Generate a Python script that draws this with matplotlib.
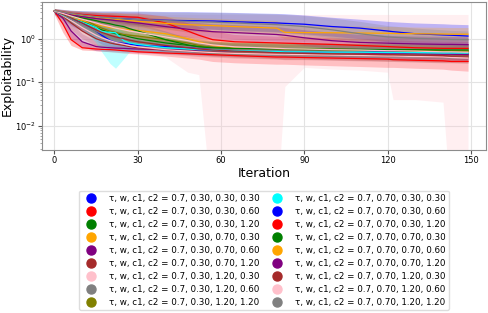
import matplotlib
matplotlib.use("Agg")
import matplotlib.pyplot as plt
from matplotlib.lines import Line2D
import numpy as np

plt.rcParams['font.family'] = ['DejaVu Sans']

# iteration knots at which values were read
iters = [0, 3, 6, 10, 15, 17, 20, 22, 25, 27, 30, 40, 48, 52, 57, 65, 80, 83, 90, 100, 110, 120, 122, 130, 140, 143, 149]

labels = [
    "τ, w, c1, c2 = 0.7, 0.30, 0.30, 0.30",
    "τ, w, c1, c2 = 0.7, 0.30, 0.30, 0.60",
    "τ, w, c1, c2 = 0.7, 0.30, 0.30, 1.20",
    "τ, w, c1, c2 = 0.7, 0.30, 0.70, 0.30",
    "τ, w, c1, c2 = 0.7, 0.30, 0.70, 0.60",
    "τ, w, c1, c2 = 0.7, 0.30, 0.70, 1.20",
    "τ, w, c1, c2 = 0.7, 0.30, 1.20, 0.30",
    "τ, w, c1, c2 = 0.7, 0.30, 1.20, 0.60",
    "τ, w, c1, c2 = 0.7, 0.30, 1.20, 1.20",
    "τ, w, c1, c2 = 0.7, 0.70, 0.30, 0.30",
    "τ, w, c1, c2 = 0.7, 0.70, 0.30, 0.60",
    "τ, w, c1, c2 = 0.7, 0.70, 0.30, 1.20",
    "τ, w, c1, c2 = 0.7, 0.70, 0.70, 0.30",
    "τ, w, c1, c2 = 0.7, 0.70, 0.70, 0.60",
    "τ, w, c1, c2 = 0.7, 0.70, 0.70, 1.20",
    "τ, w, c1, c2 = 0.7, 0.70, 1.20, 0.30",
    "τ, w, c1, c2 = 0.7, 0.70, 1.20, 0.60",
    "τ, w, c1, c2 = 0.7, 0.70, 1.20, 1.20",
]
colors = ["blue", "red", "green", "orange", "purple", "brown", "pink", "gray", "olive",
          "cyan", "blue", "red", "green", "orange", "purple", "brown", "pink", "gray"]

s01_mean = [4.3, 3.5, 2.8, 2.3, 1.5, 1.2, 0.92, 0.82, 0.78, 0.75, 0.7, 0.66, 0.64, 0.62, 0.6, 0.58, 0.56, 0.55, 0.54, 0.53, 0.52, 0.5, 0.5, 0.48, 0.47, 0.46, 0.45]
s01_lo = [3.8, 2.8, 2.0, 1.5, 0.9, 0.75, 0.65, 0.6, 0.58, 0.56, 0.55, 0.5, 0.48, 0.47, 0.46, 0.44, 0.42, 0.41, 0.4, 0.39, 0.38, 0.37, 0.37, 0.36, 0.35, 0.34, 0.33]
s01_hi = [4.8, 4.3, 3.8, 3.3, 2.6, 2.2, 1.8, 1.5, 1.3, 1.15, 1.05, 0.9, 0.85, 0.82, 0.8, 0.78, 0.75, 0.74, 0.73, 0.72, 0.7, 0.68, 0.68, 0.66, 0.65, 0.64, 0.63]

s02_mean = [4.3, 2.2, 0.95, 0.62, 0.58, 0.57, 0.56, 0.55, 0.53, 0.52, 0.5, 0.47, 0.45, 0.44, 0.43, 0.41, 0.38, 0.38, 0.37, 0.36, 0.35, 0.34, 0.33, 0.32, 0.31, 0.3, 0.3]
s02_lo = [3.6, 1.4, 0.7, 0.55, 0.53, 0.52, 0.5, 0.49, 0.47, 0.46, 0.45, 0.4, 0.36, 0.34, 0.3, 0.28, 0.26, 0.26, 0.25, 0.24, 0.23, 0.22, 0.22, 0.21, 0.2, 0.19, 0.18]
s02_hi = [4.8, 3.3, 1.6, 0.85, 0.75, 0.73, 0.7, 0.69, 0.67, 0.65, 0.63, 0.6, 0.58, 0.57, 0.56, 0.54, 0.52, 0.52, 0.51, 0.5, 0.49, 0.47, 0.47, 0.46, 0.45, 0.45, 0.45]

s03_mean = [4.3, 3.6, 3.0, 2.5, 1.8, 1.6, 1.4, 1.3, 1.2, 1.1, 1.0, 0.8, 0.7, 0.66, 0.63, 0.6, 0.58, 0.57, 0.56, 0.55, 0.54, 0.53, 0.53, 0.52, 0.51, 0.5, 0.5]
s03_lo = [3.8, 3.0, 2.3, 1.8, 1.2, 1.05, 0.95, 0.88, 0.82, 0.77, 0.72, 0.6, 0.53, 0.5, 0.48, 0.45, 0.43, 0.42, 0.41, 0.4, 0.39, 0.38, 0.38, 0.37, 0.36, 0.35, 0.35]
s03_hi = [4.8, 4.2, 3.7, 3.3, 2.6, 2.4, 2.1, 2.0, 1.85, 1.7, 1.55, 1.2, 1.0, 0.93, 0.88, 0.83, 0.8, 0.79, 0.78, 0.76, 0.75, 0.74, 0.74, 0.73, 0.72, 0.71, 0.71]

s04_mean = [4.3, 3.7, 3.1, 2.6, 2.1, 2.0, 1.8, 1.75, 1.65, 1.6, 1.55, 1.3, 1.0, 0.85, 0.7, 0.62, 0.6, 0.59, 0.58, 0.57, 0.56, 0.55, 0.55, 0.54, 0.53, 0.53, 0.52]
s04_lo = [3.8, 3.1, 2.5, 2.0, 1.5, 1.4, 1.25, 1.2, 1.1, 1.05, 1.0, 0.8, 0.62, 0.55, 0.48, 0.44, 0.42, 0.41, 0.4, 0.4, 0.39, 0.38, 0.38, 0.37, 0.36, 0.36, 0.35]
s04_hi = [4.8, 4.3, 3.8, 3.3, 2.8, 2.7, 2.5, 2.45, 2.35, 2.3, 2.25, 2.0, 1.6, 1.3, 1.05, 0.9, 0.85, 0.84, 0.83, 0.82, 0.8, 0.78, 0.78, 0.77, 0.76, 0.76, 0.75]

s05_mean = [4.2, 3.0, 1.5, 0.85, 0.66, 0.64, 0.62, 0.61, 0.6, 0.59, 0.58, 0.56, 0.55, 0.54, 0.53, 0.52, 0.5, 0.5, 0.49, 0.48, 0.47, 0.46, 0.46, 0.45, 0.44, 0.44, 0.43]
s05_lo = [3.6, 2.2, 1.0, 0.65, 0.53, 0.52, 0.51, 0.5, 0.49, 0.48, 0.47, 0.45, 0.43, 0.42, 0.41, 0.4, 0.38, 0.38, 0.37, 0.36, 0.35, 0.34, 0.34, 0.33, 0.32, 0.32, 0.31]
s05_hi = [4.8, 3.8, 2.3, 1.3, 0.9, 0.85, 0.8, 0.78, 0.76, 0.74, 0.72, 0.7, 0.68, 0.67, 0.66, 0.65, 0.63, 0.63, 0.62, 0.61, 0.6, 0.59, 0.59, 0.58, 0.57, 0.57, 0.56]

s06_mean = [4.3, 3.3, 2.3, 1.5, 1.0, 0.9, 0.8, 0.75, 0.7, 0.66, 0.62, 0.55, 0.52, 0.5, 0.49, 0.47, 0.45, 0.44, 0.43, 0.42, 0.41, 0.4, 0.4, 0.39, 0.38, 0.38, 0.37]
s06_lo = [3.7, 2.6, 1.6, 1.0, 0.7, 0.65, 0.6, 0.57, 0.55, 0.52, 0.5, 0.44, 0.41, 0.39, 0.38, 0.36, 0.34, 0.33, 0.33, 0.32, 0.31, 0.3, 0.3, 0.29, 0.28, 0.28, 0.27]
s06_hi = [4.8, 4.0, 3.1, 2.2, 1.5, 1.3, 1.1, 1.0, 0.92, 0.86, 0.8, 0.7, 0.66, 0.64, 0.63, 0.6, 0.58, 0.57, 0.56, 0.55, 0.54, 0.53, 0.53, 0.52, 0.51, 0.51, 0.5]

s07_mean = [4.3, 3.4, 2.6, 1.8, 1.2, 1.05, 0.9, 0.82, 0.75, 0.7, 0.65, 0.56, 0.52, 0.5, 0.48, 0.46, 0.44, 0.44, 0.43, 0.42, 0.41, 0.4, 0.4, 0.39, 0.38, 0.37, 0.36]
s07_lo = [3.5, 2.5, 1.5, 0.9, 0.6, 0.55, 0.5, 0.48, 0.46, 0.45, 0.44, 0.38, 0.17, 0.15, 0.0001, 0.0001, 0.0001, 0.08, 0.22, 0.2, 0.19, 0.17, 0.04, 0.04, 0.035, 0.0001, 0.0001]
s07_hi = [4.8, 4.6, 4.4, 4.2, 4.0, 3.9, 3.8, 3.8, 3.7, 3.7, 3.7, 3.6, 3.6, 3.6, 3.6, 3.6, 3.6, 3.6, 3.6, 3.6, 3.6, 3.6, 3.6, 3.6, 3.6, 3.6, 3.6]

s08_mean = [4.3, 3.5, 2.8, 2.1, 1.5, 1.3, 1.15, 1.05, 0.95, 0.9, 0.85, 0.72, 0.66, 0.63, 0.6, 0.57, 0.55, 0.54, 0.53, 0.52, 0.5, 0.49, 0.49, 0.48, 0.47, 0.47, 0.46]
s08_lo = [3.8, 2.9, 2.1, 1.5, 1.0, 0.9, 0.8, 0.75, 0.7, 0.66, 0.63, 0.54, 0.5, 0.48, 0.46, 0.43, 0.41, 0.4, 0.4, 0.39, 0.38, 0.37, 0.37, 0.36, 0.35, 0.35, 0.34]
s08_hi = [4.8, 4.2, 3.6, 2.9, 2.2, 1.9, 1.7, 1.55, 1.4, 1.3, 1.2, 1.0, 0.9, 0.86, 0.82, 0.78, 0.75, 0.74, 0.73, 0.72, 0.7, 0.68, 0.68, 0.67, 0.66, 0.66, 0.65]

s09_mean = [4.3, 3.6, 3.2, 2.9, 2.0, 1.75, 1.5, 1.4, 1.25, 1.2, 1.15, 0.95, 0.8, 0.7, 0.63, 0.6, 0.58, 0.57, 0.56, 0.55, 0.55, 0.54, 0.54, 0.53, 0.53, 0.52, 0.52]
s09_lo = [3.8, 3.0, 2.5, 2.1, 1.4, 1.2, 1.05, 0.97, 0.9, 0.86, 0.82, 0.68, 0.58, 0.52, 0.47, 0.45, 0.43, 0.42, 0.42, 0.41, 0.41, 0.4, 0.4, 0.39, 0.39, 0.38, 0.38]
s09_hi = [4.8, 4.3, 3.9, 3.7, 2.8, 2.5, 2.2, 2.05, 1.85, 1.75, 1.65, 1.35, 1.15, 1.0, 0.88, 0.83, 0.8, 0.79, 0.78, 0.77, 0.77, 0.76, 0.76, 0.75, 0.75, 0.74, 0.74]

s10_mean = [4.3, 3.5, 3.0, 2.4, 1.8, 1.45, 1.4, 1.37, 0.9, 0.8, 0.74, 0.62, 0.58, 0.56, 0.55, 0.53, 0.51, 0.5, 0.5, 0.49, 0.49, 0.48, 0.48, 0.48, 0.47, 0.47, 0.47]
s10_lo = [3.8, 2.9, 2.4, 1.8, 0.8, 0.5, 0.27, 0.21, 0.35, 0.5, 0.55, 0.48, 0.45, 0.44, 0.43, 0.41, 0.4, 0.39, 0.39, 0.38, 0.38, 0.37, 0.37, 0.37, 0.36, 0.36, 0.36]
s10_hi = [4.8, 4.2, 3.7, 3.1, 2.6, 2.2, 2.0, 1.95, 1.4, 1.2, 1.05, 0.85, 0.78, 0.75, 0.73, 0.7, 0.67, 0.66, 0.66, 0.65, 0.65, 0.64, 0.64, 0.64, 0.63, 0.63, 0.63]

s11_mean = [4.4, 4.0, 3.7, 3.4, 3.1, 3.05, 2.95, 2.9, 2.85, 2.8, 2.75, 2.65, 2.6, 2.58, 2.55, 2.45, 2.3, 2.25, 2.15, 1.9, 1.75, 1.5, 1.45, 1.3, 1.22, 1.2, 1.15]
s11_lo = [3.9, 3.4, 3.0, 2.6, 2.3, 2.2, 2.1, 2.05, 2.0, 1.95, 1.9, 1.8, 1.75, 1.7, 1.65, 1.55, 1.45, 1.4, 1.3, 1.15, 1.0, 0.85, 0.82, 0.75, 0.7, 0.68, 0.66]
s11_hi = [4.9, 4.7, 4.5, 4.4, 4.3, 4.3, 4.3, 4.3, 4.3, 4.3, 4.3, 4.2, 4.2, 4.15, 4.1, 4.0, 3.8, 3.75, 3.5, 3.1, 2.8, 2.5, 2.45, 2.3, 2.2, 2.15, 2.1]

s12_mean = [4.4, 4.1, 3.8, 3.6, 3.4, 3.35, 3.3, 3.25, 3.2, 3.15, 3.1, 2.3, 1.5, 1.2, 0.95, 0.85, 0.8, 0.79, 0.77, 0.74, 0.7, 0.66, 0.65, 0.62, 0.6, 0.6, 0.6]
s12_lo = [3.9, 3.4, 3.0, 2.8, 2.5, 2.4, 2.35, 2.3, 2.2, 2.1, 2.0, 1.4, 0.95, 0.8, 0.65, 0.6, 0.56, 0.55, 0.54, 0.52, 0.5, 0.47, 0.47, 0.45, 0.43, 0.43, 0.42]
s12_hi = [4.9, 4.6, 4.4, 4.2, 4.1, 4.0, 4.0, 4.0, 3.9, 3.9, 3.9, 3.3, 2.3, 1.9, 1.5, 1.25, 1.15, 1.13, 1.1, 1.06, 1.0, 0.95, 0.94, 0.9, 0.87, 0.87, 0.86]

s13_mean = [4.3, 3.8, 3.4, 3.0, 2.6, 2.4, 2.2, 2.05, 1.9, 1.7, 1.5, 0.95, 0.72, 0.65, 0.62, 0.6, 0.59, 0.59, 0.58, 0.58, 0.57, 0.56, 0.56, 0.56, 0.55, 0.55, 0.55]
s13_lo = [3.8, 3.2, 2.7, 2.3, 1.9, 1.75, 1.6, 1.5, 1.35, 1.2, 1.05, 0.65, 0.52, 0.48, 0.46, 0.45, 0.44, 0.44, 0.43, 0.43, 0.42, 0.41, 0.41, 0.41, 0.4, 0.4, 0.4]
s13_hi = [4.8, 4.4, 4.1, 3.8, 3.4, 3.2, 3.0, 2.9, 2.7, 2.5, 2.3, 1.5, 1.05, 0.9, 0.85, 0.82, 0.8, 0.8, 0.79, 0.79, 0.78, 0.77, 0.77, 0.77, 0.76, 0.76, 0.76]

s14_mean = [4.4, 4.0, 3.7, 3.4, 3.1, 3.0, 2.9, 2.8, 2.7, 2.6, 2.5, 2.25, 2.1, 2.05, 2.0, 1.9, 1.75, 1.4, 1.38, 1.37, 1.35, 1.33, 1.32, 1.3, 1.28, 1.27, 1.27]
s14_lo = [3.9, 3.4, 3.0, 2.6, 2.3, 2.2, 2.1, 2.05, 1.95, 1.9, 1.8, 1.6, 1.5, 1.45, 1.4, 1.3, 1.2, 1.0, 0.98, 0.95, 0.93, 0.9, 0.9, 0.88, 0.86, 0.85, 0.85]
s14_hi = [4.9, 4.6, 4.4, 4.2, 4.0, 3.95, 3.9, 3.85, 3.8, 3.7, 3.6, 3.3, 3.1, 3.0, 2.95, 2.8, 2.6, 2.1, 2.05, 2.0, 1.95, 1.9, 1.9, 1.85, 1.82, 1.8, 1.8]

s15_mean = [4.3, 3.9, 3.5, 3.2, 2.9, 2.8, 2.7, 2.6, 2.5, 2.4, 2.3, 1.9, 1.65, 1.55, 1.45, 1.38, 1.25, 1.2, 1.05, 0.9, 0.82, 0.79, 0.78, 0.76, 0.74, 0.74, 0.73]
s15_lo = [3.8, 3.3, 2.8, 2.4, 2.1, 2.0, 1.95, 1.9, 1.8, 1.7, 1.6, 1.3, 1.1, 1.02, 0.95, 0.9, 0.82, 0.8, 0.7, 0.6, 0.55, 0.53, 0.52, 0.51, 0.5, 0.5, 0.49]
s15_hi = [4.8, 4.5, 4.3, 4.1, 3.9, 3.8, 3.7, 3.6, 3.5, 3.4, 3.3, 2.8, 2.5, 2.35, 2.2, 2.1, 1.9, 1.8, 1.6, 1.4, 1.25, 1.2, 1.18, 1.15, 1.12, 1.12, 1.1]

s16_mean = [4.3, 3.6, 3.0, 2.3, 1.6, 1.4, 1.2, 1.1, 1.0, 0.93, 0.85, 0.7, 0.62, 0.58, 0.55, 0.52, 0.48, 0.47, 0.46, 0.45, 0.44, 0.43, 0.43, 0.42, 0.41, 0.4, 0.4]
s16_lo = [3.7, 2.9, 2.3, 1.6, 1.1, 0.95, 0.85, 0.78, 0.72, 0.68, 0.63, 0.52, 0.46, 0.43, 0.4, 0.38, 0.35, 0.34, 0.34, 0.33, 0.32, 0.31, 0.31, 0.3, 0.29, 0.29, 0.29]
s16_hi = [4.8, 4.2, 3.7, 3.0, 2.2, 1.95, 1.7, 1.55, 1.4, 1.3, 1.2, 0.95, 0.82, 0.77, 0.73, 0.69, 0.64, 0.63, 0.62, 0.61, 0.6, 0.58, 0.58, 0.57, 0.56, 0.55, 0.55]

s17_mean = [4.3, 3.8, 3.3, 2.8, 2.3, 2.1, 1.9, 1.75, 1.6, 1.5, 1.4, 1.1, 0.9, 0.8, 0.72, 0.65, 0.6, 0.59, 0.58, 0.56, 0.55, 0.53, 0.53, 0.52, 0.5, 0.5, 0.49]
s17_lo = [3.8, 3.1, 2.6, 2.1, 1.6, 1.45, 1.3, 1.2, 1.1, 1.0, 0.95, 0.72, 0.6, 0.55, 0.5, 0.46, 0.43, 0.42, 0.42, 0.41, 0.4, 0.38, 0.38, 0.37, 0.36, 0.36, 0.35]
s17_hi = [4.8, 4.4, 4.0, 3.5, 3.0, 2.8, 2.6, 2.45, 2.3, 2.2, 2.1, 1.7, 1.4, 1.25, 1.1, 0.98, 0.9, 0.88, 0.86, 0.83, 0.81, 0.78, 0.78, 0.77, 0.74, 0.74, 0.73]

s18_mean = [4.4, 4.1, 3.8, 3.5, 3.2, 3.1, 3.0, 2.95, 2.85, 2.8, 2.75, 2.6, 2.5, 2.45, 2.4, 2.3, 2.1, 2.05, 1.9, 1.6, 1.3, 1.1, 1.08, 1.02, 0.98, 0.96, 0.95]
s18_lo = [3.9, 3.5, 3.1, 2.7, 2.4, 2.3, 2.2, 2.15, 2.1, 2.05, 2.0, 1.85, 1.75, 1.7, 1.65, 1.55, 1.4, 1.35, 1.25, 1.05, 0.85, 0.72, 0.7, 0.66, 0.63, 0.62, 0.61]
s18_hi = [4.9, 4.7, 4.5, 4.4, 4.3, 4.3, 4.3, 4.3, 4.25, 4.2, 4.2, 4.1, 4.05, 4.0, 4.0, 3.9, 3.7, 3.6, 3.4, 3.0, 2.5, 2.0, 1.95, 1.75, 1.6, 1.55, 1.5]

means = [s01_mean, s02_mean, s03_mean, s04_mean, s05_mean, s06_mean, s07_mean, s08_mean, s09_mean,
         s10_mean, s11_mean, s12_mean, s13_mean, s14_mean, s15_mean, s16_mean, s17_mean, s18_mean]
lows = [s01_lo, s02_lo, s03_lo, s04_lo, s05_lo, s06_lo, s07_lo, s08_lo, s09_lo,
        s10_lo, s11_lo, s12_lo, s13_lo, s14_lo, s15_lo, s16_lo, s17_lo, s18_lo]
highs = [s01_hi, s02_hi, s03_hi, s04_hi, s05_hi, s06_hi, s07_hi, s08_hi, s09_hi,
         s10_hi, s11_hi, s12_hi, s13_hi, s14_hi, s15_hi, s16_hi, s17_hi, s18_hi]

fig = plt.figure(figsize=(4.88, 3.13), dpi=100)
ax = fig.add_axes([0.086, 0.521, 0.910, 0.473])

for m, lo, hi, c in zip(means, lows, highs, colors):
    ax.plot(iters, m, color=c, lw=0.9)
    ax.fill_between(iters, lo, hi, color=c, alpha=0.25, lw=0)

ax.set_yscale('log')
ax.set_ylim(0.0028, 7.0)
ax.set_xlim(-4.5, 155.5)
ax.set_xticks([0, 30, 60, 90, 120, 150])
ax.grid(True, which='major', color='#e3e3e3', lw=0.8)
ax.set_axisbelow(True)
for sp in ax.spines.values():
    sp.set_color('#8c8c8c')
ax.tick_params(axis='both', which='major', labelsize=6, length=3, color='#555555', pad=1.5)
ax.tick_params(axis='both', which='minor', length=1.5, color='#999999')
ax.set_xlabel('Iteration', fontsize=9, labelpad=1)
ax.set_ylabel('Exploitability', fontsize=9, labelpad=0)
ax.yaxis.set_label_coords(-0.063, 0.5)

handles = [Line2D([], [], marker='o', ls='', color=c, markersize=6.5) for c in colors]
ax.legend(handles, labels, loc='upper center', bbox_to_anchor=(0.5, -0.245), ncol=2,
          fontsize=6.3, frameon=True, handletextpad=1.0, columnspacing=1.0,
          labelspacing=0.45, borderpad=0.4, framealpha=1, edgecolor='#dddddd')

fig.savefig('out.png', dpi=100)
